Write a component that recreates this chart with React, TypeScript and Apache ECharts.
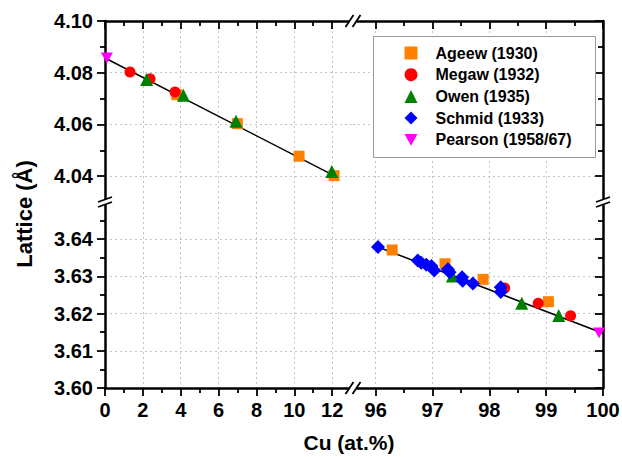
import React, { useEffect, useRef } from "react";
import * as echarts from "echarts";

// ---------- data ----------
const seriesNames = ["Ageew (1930)", "Megaw (1932)", "Owen (1935)", "Schmid (1933)", "Pearson (1958/67)"];
const seriesColors = ["#FF8000", "#FF0000", "#008000", "#0000FF", "#FF00FF"];

const ageewAg = [[3.79, 4.0715], [6.99, 4.0603], [10.25, 4.0477], [12.1, 4.0402]];
const ageewCu = [[96.29, 3.6371], [97.22, 3.6334], [97.89, 3.6292], [99.04, 3.6232]];
const megawAg = [[1.32, 4.0803], [2.38, 4.0777], [3.7, 4.0725]];
const megawCu = [[98.27, 3.6269], [98.86, 3.6228], [99.43, 3.6194]];
const owenAg = [[2.2, 4.0774], [4.14, 4.0713], [6.92, 4.0612], [11.98, 4.0418]];
const owenCu = [[97.35, 3.6301], [98.57, 3.6228], [99.22, 3.6195]];
const schmidCu = [
  [96.04, 3.6379], [96.74, 3.6343], [96.8, 3.6337], [96.89, 3.6331], [96.98, 3.6328],
  [97.03, 3.6316], [97.27, 3.6319], [97.3, 3.6311], [97.52, 3.6298], [97.53, 3.6288],
  [97.71, 3.6281], [98.2, 3.6271], [98.2, 3.6258],
];
const pearsonAg = [[0.1, 4.0857]];
const pearsonCu = [[99.93, 3.6148]];
const fitAg = [[0, 4.0857], [12.1, 4.0402]];
const fitCu = [[96.04, 3.6379], [100, 3.6147]];

const xRangeLow = [0, 13.1];
const xRangeHigh = [95.6, 100];
const yRangeHigh = [4.03, 4.1];
const yRangeLow = [3.6, 3.65];

const xTicksLow = [0, 2, 4, 6, 8, 10, 12];
const xMinorLow = [1, 3, 5, 7, 9, 11];
const xTicksHigh = [96, 97, 98, 99, 100];
const xMinorHigh = [96.5, 97.5, 98.5, 99.5];
const yTicksHigh = [4.04, 4.06, 4.08, 4.1];
const yMinorHigh = [4.05, 4.07, 4.09];
const yTicksLow = [3.6, 3.61, 3.62, 3.63, 3.64];
const yMinorLow = [3.605, 3.615, 3.625, 3.635, 3.645];

// ---------- layout ----------
const L = 105, M = 353, R = 603, T = 21, MY = 202, B = 388;
const FONT = "'Liberation Sans', Arial, sans-serif";

function axisPair(
  grid: number, range: number[], position: string, majors: number[], minors: number[],
  showLabel: boolean, inside: boolean, fmt: (v: number) => string
) {
  const common = { gridIndex: grid, type: "value", min: range[0], max: range[1], position };
  const major = {
    ...common,
    axisLine: { show: true, onZero: false, lineStyle: { color: "#000", width: 2.5 } },
    axisTick: { show: true, inside, length: 8, customValues: majors, lineStyle: { color: "#000", width: 1.8 } },
    axisLabel: {
      show: showLabel, customValues: majors, margin: 12, color: "#000",
      fontFamily: FONT, fontWeight: "bold", fontSize: 20, formatter: fmt,
    },
    splitLine: { show: true, lineStyle: { color: "#c4c4c4", width: 1, type: [2, 3] } },
  };
  const minor = {
    ...common,
    axisLine: { show: false, onZero: false },
    axisTick: { show: true, inside, length: 5, customValues: minors, lineStyle: { color: "#000", width: 1.8 } },
    axisLabel: { show: false, customValues: minors },
    splitLine: { show: false },
  };
  return [major, minor];
}

const fx = (v: number) => String(v);
const fy = (v: number) => v.toFixed(2);

function hBreak(cx: number, cy: number) {
  return [
    { type: "rect", z: 100, shape: { x: cx - 3.5, y: cy - 2.5, width: 7, height: 5 }, style: { fill: "#fff" } },
    { type: "line", z: 101, shape: { x1: cx - 7.5, y1: cy + 6, x2: cx + 0.5, y2: cy - 6 }, style: { stroke: "#000", lineWidth: 1.8 } },
    { type: "line", z: 101, shape: { x1: cx - 0.5, y1: cy + 6, x2: cx + 7.5, y2: cy - 6 }, style: { stroke: "#000", lineWidth: 1.8 } },
  ];
}
function vBreak(cx: number, cy: number) {
  return [
    { type: "rect", z: 100, shape: { x: cx - 2.5, y: cy - 3, width: 5, height: 6 }, style: { fill: "#fff" } },
    { type: "line", z: 101, shape: { x1: cx - 7, y1: cy, x2: cx + 7, y2: cy - 5 }, style: { stroke: "#000", lineWidth: 1.8 } },
    { type: "line", z: 101, shape: { x1: cx - 7, y1: cy + 5, x2: cx + 7, y2: cy }, style: { stroke: "#000", lineWidth: 1.8 } },
  ];
}

function scatter(name: string, grid: number, data: number[][], symbol: string, size: any, color: string) {
  return {
    type: "scatter", name, xAxisIndex: grid * 2, yAxisIndex: grid * 2, data,
    symbol, symbolSize: size, symbolKeepAspect: true, itemStyle: { color, opacity: 1 }, z: 3,
  };
}
function fit(grid: number, data: number[][]) {
  return {
    type: "line", name: "fit", xAxisIndex: grid * 2, yAxisIndex: grid * 2, data,
    showSymbol: false, symbol: "none", lineStyle: { color: "#000", width: 1.5 }, z: 2, silent: true,
  };
}

export default function App() {
  const ref = useRef<HTMLDivElement>(null);
  useEffect(() => {
    if (!ref.current) return;
    const chart = echarts.init(ref.current, null, { renderer: "svg" });
    const grids = [
      { left: L, top: T, width: M - L, height: MY - T },
      { left: M, top: T, width: R - M, height: MY - T },
      { left: L, top: MY, width: M - L, height: B - MY },
      { left: M, top: MY, width: R - M, height: B - MY },
    ].map((g) => ({ ...g, containLabel: false, outerBoundsMode: "none" }));

    const xAxis = [
      ...axisPair(0, xRangeLow, "top", xTicksLow, xMinorLow, false, true, fx),
      ...axisPair(1, xRangeHigh, "top", xTicksHigh, xMinorHigh, false, true, fx),
      ...axisPair(2, xRangeLow, "bottom", xTicksLow, xMinorLow, true, false, fx),
      ...axisPair(3, xRangeHigh, "bottom", xTicksHigh, xMinorHigh, true, false, fx),
    ];
    const yAxis = [
      ...axisPair(0, yRangeHigh, "left", yTicksHigh, yMinorHigh, true, false, fy),
      ...axisPair(1, yRangeHigh, "right", yTicksHigh, yMinorHigh, false, true, fy),
      ...axisPair(2, yRangeLow, "left", yTicksLow, yMinorLow, true, false, fy),
      ...axisPair(3, yRangeLow, "right", yTicksLow, yMinorLow, false, true, fy),
    ];

    const triDown = "path://M0,0 L10,0 L5,9 Z";
    const series = [
      fit(0, fitAg),
      fit(3, fitCu),
      scatter(seriesNames[0], 0, ageewAg, "rect", 11, seriesColors[0]),
      scatter(seriesNames[0], 3, ageewCu, "rect", 11, seriesColors[0]),
      scatter(seriesNames[1], 0, megawAg, "circle", 11, seriesColors[1]),
      scatter(seriesNames[1], 3, megawCu, "circle", 11, seriesColors[1]),
      scatter(seriesNames[2], 0, owenAg, "triangle", 13, seriesColors[2]),
      scatter(seriesNames[2], 3, owenCu, "triangle", 13, seriesColors[2]),
      scatter(seriesNames[3], 3, schmidCu, "diamond", 14, seriesColors[3]),
      scatter(seriesNames[4], 0, pearsonAg, triDown, 12, seriesColors[4]),
      scatter(seriesNames[4], 3, pearsonCu, triDown, 12, seriesColors[4]),
    ];

    const icons = ["rect", "circle", "triangle", "diamond", triDown];

    chart.setOption({
      animation: false,
      backgroundColor: "#fff",
      grid: grids,
      xAxis,
      yAxis,
      series,
      legend: {
        show: true,
        orient: "vertical",
        left: 404.5,
        top: 44,
        padding: 0,
        itemWidth: 13,
        itemHeight: 13,
        itemGap: 3.7,
        selectedMode: false,
        z: 10,
        data: seriesNames.map((n, i) => ({ name: n, icon: icons[i] })),
        textStyle: {
          color: "#000", fontFamily: FONT, fontWeight: "bold", fontSize: 16, lineHeight: 18,
          padding: [0, 0, 0, 13],
        },
      },
      graphic: {
        elements: [
          { type: "rect", z: 5, shape: { x: 373.5, y: 36.5, width: 222, height: 121 }, style: { fill: "#fff", stroke: "#999", lineWidth: 1 } },
          ...hBreak(M, T),
          ...hBreak(M, B),
          ...vBreak(L, MY),
          ...vBreak(R, MY),
          {
            type: "text", z: 20, x: 24, y: 214, rotation: Math.PI / 2,
            style: { text: "Lattice (Å)", fill: "#000", font: `bold 22px ${FONT}`, align: "center", verticalAlign: "middle" },
          },
          {
            type: "text", z: 20, x: 349, y: 442,
            style: { text: "Cu (at.%)", fill: "#000", font: `bold 21px ${FONT}`, align: "center", verticalAlign: "middle" },
          },
        ],
      },
    });
    return () => chart.dispose();
  }, []);
  return (
    <div
      ref={ref}
      style={{ position: "absolute", left: 0, top: 0, width: 622, height: 457, background: "#fff" }}
    />
  );
}
